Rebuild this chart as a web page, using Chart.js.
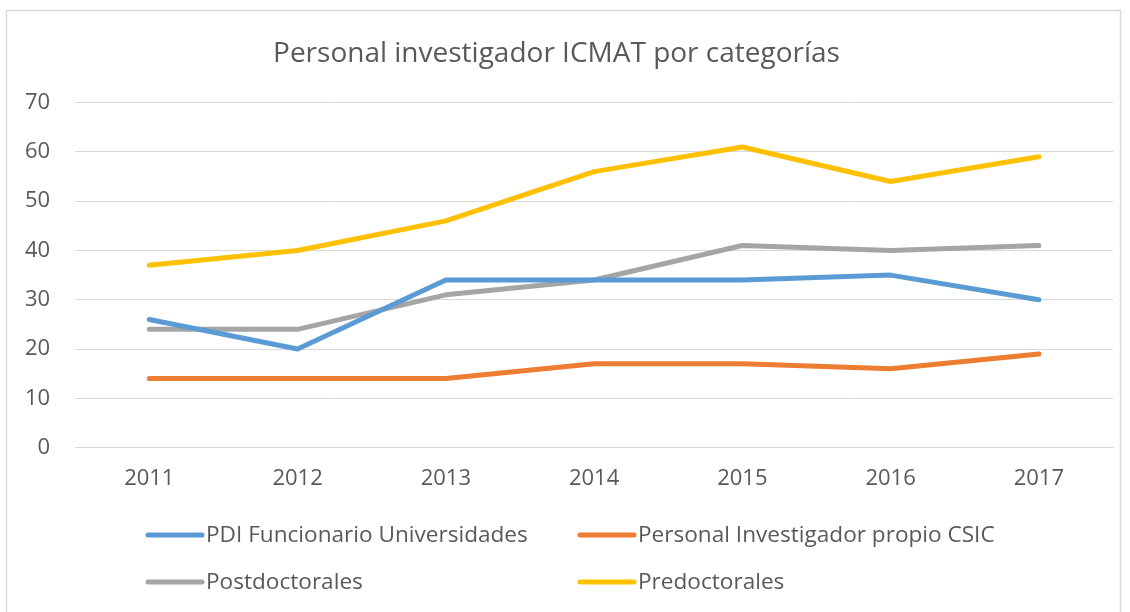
<!DOCTYPE html>
<html><head><meta charset="utf-8">
<script src="https://cdn.jsdelivr.net/npm/chart.js@4/dist/chart.umd.min.js"></script>
<style>html,body{margin:0;padding:0;background:#fff;}#wrap{width:1130px;height:612px;position:relative;}</style>
</head><body><div id="wrap"><canvas id="c" width="1130" height="612"></canvas></div>
<script>
const years = ['2011','2012','2013','2014','2015','2016','2017'];
const seriesNames = ['PDI Funcionario Universidades','Personal Investigador propio CSIC','Postdoctorales','Predoctorales'];
const pdiFuncionario = [26, 20, 34, 34, 34, 35, 30];
const personalCSIC = [14, 14, 14, 17, 17, 16, 19];
const postdoctorales = [24, 24, 31, 34, 41, 40, 41];
const predoctorales = [37, 40, 46, 56, 61, 54, 59];
const yTicks = [0, 10, 20, 30, 40, 50, 60, 70];
const colors = ['#5B9BD5', '#ED7D31', '#A5A5A5', '#FFC000'];
const FONT = '"Open Sans", sans-serif';
const TEXT = '#595959';

const frame = {
  id: 'frame',
  beforeDraw(chart) {
    const ctx = chart.ctx;
    ctx.save();
    ctx.fillStyle = '#fff';
    ctx.fillRect(0, 0, chart.width, chart.height);
    ctx.strokeStyle = '#D9D9D9';
    ctx.lineWidth = 1.5;
    ctx.strokeRect(6.5, 10.5, 1114, 640);
    ctx.restore();
  }
};

const customLegend = {
  id: 'customLegend',
  afterDraw(chart) {
    const ctx = chart.ctx;
    const cols = [148, 580];
    const rows = [535, 582];
    ctx.save();
    ctx.font = '22.6px ' + FONT;
    ctx.textBaseline = 'middle';
    ctx.textAlign = 'left';
    chart.data.datasets.forEach((ds, i) => {
      const x = cols[i % 2], y = rows[Math.floor(i / 2)];
      ctx.strokeStyle = ds.borderColor;
      ctx.lineWidth = 5;
      ctx.lineCap = 'round';
      ctx.beginPath();
      ctx.moveTo(x, y);
      ctx.lineTo(x + 54, y);
      ctx.stroke();
      ctx.fillStyle = TEXT;
      ctx.fillText(ds.label, x + 58, y + 1);
    });
    ctx.restore();
  }
};

new Chart(document.getElementById('c'), {
  type: 'line',
  data: {
    labels: years,
    datasets: [pdiFuncionario, personalCSIC, postdoctorales, predoctorales].map((d, i) => ({
      label: seriesNames[i],
      data: d,
      borderColor: colors[i],
      backgroundColor: colors[i],
      borderWidth: 5,
      pointRadius: 0,
      tension: 0,
      borderCapStyle: 'round',
      borderJoinStyle: 'round'
    }))
  },
  options: {
    responsive: false,
    animation: false,
    layout: { padding: { left: 0, right: 17, top: 0, bottom: 102 } },
    plugins: {
      legend: { display: false },
      tooltip: { enabled: false },
      title: {
        display: true,
        text: 'Personal investigador ICMAT por categorías',
        color: TEXT,
        font: { family: FONT, size: 28, weight: 'normal' },
        padding: { top: 37, bottom: 32 }
      }
    },
    scales: {
      x: {
        offset: true,
        grid: { display: false, drawTicks: false },
        border: { display: true, color: '#D9D9D9', width: 1 },
        ticks: { color: TEXT, font: { family: FONT, size: 22 }, padding: 18, maxRotation: 0 }
      },
      y: {
        min: 0, max: 70,
        afterBuildTicks(scale) { scale.ticks = yTicks.map(v => ({ value: v })); },
        grid: { color: '#D9D9D9', lineWidth: 1, drawTicks: false },
        border: { display: false },
        ticks: { color: TEXT, font: { family: FONT, size: 22 }, padding: 25 }
      }
    }
  },
  plugins: [frame, customLegend]
});
</script>
</body></html>
